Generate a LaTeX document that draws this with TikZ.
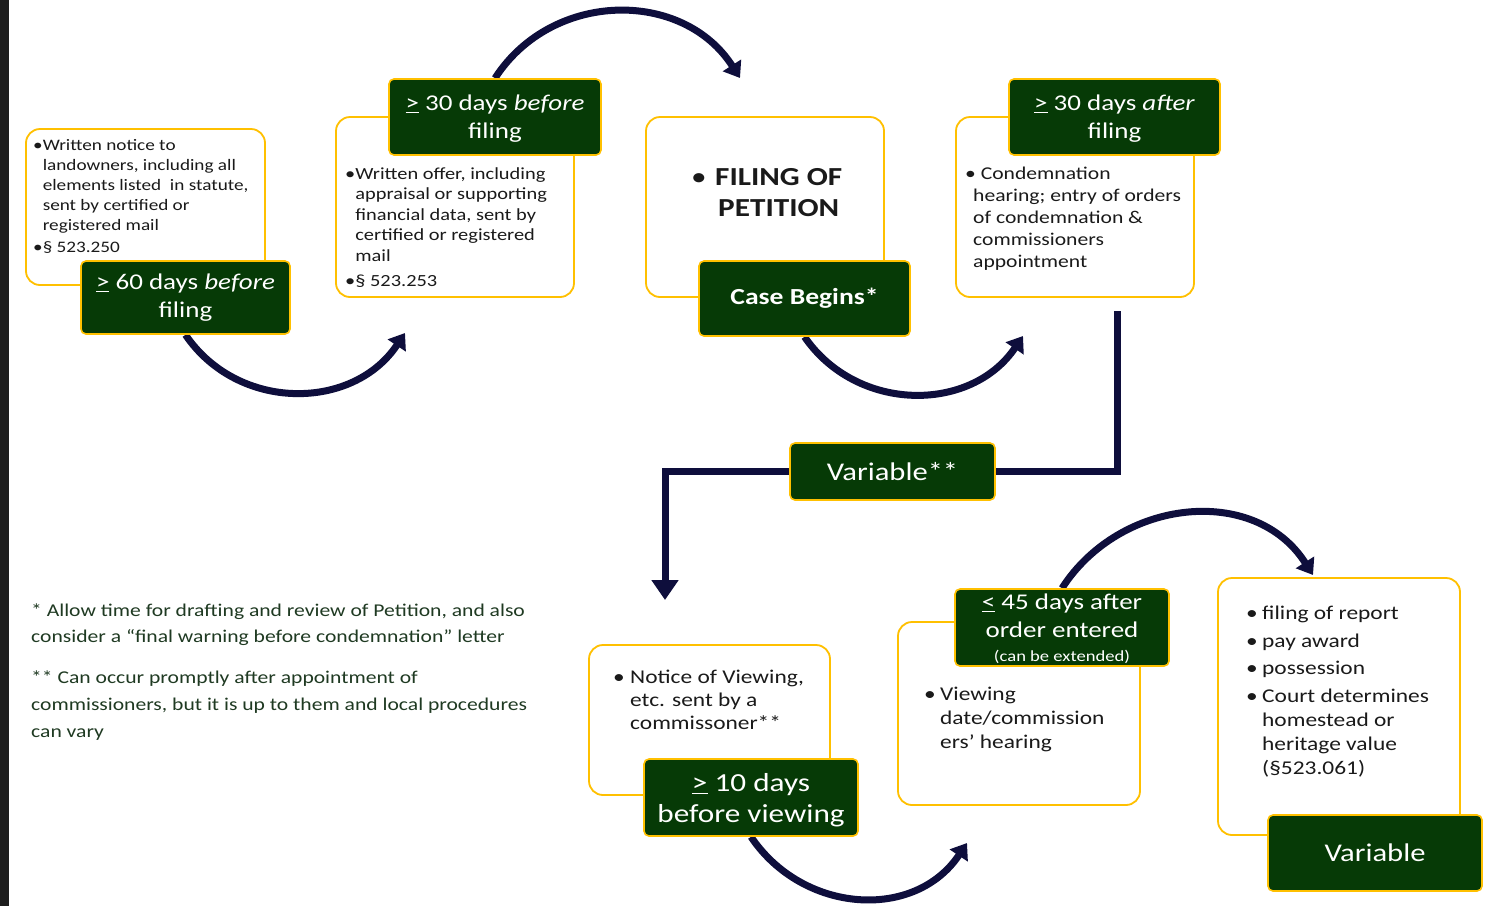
\documentclass[tikz,border=0pt]{standalone}
\usepackage{fontspec}
\setmainfont{Carlito}[FakeStretch=1.2]
\usetikzlibrary{arrows.meta}
\definecolor{lgreen}{HTML}{063A06}
\definecolor{gold}{HTML}{FFC000}
\definecolor{navy}{HTML}{0E0E3C}
\definecolor{ink}{HTML}{1A1A1A}
\definecolor{notec}{HTML}{1F3A22}
\definecolor{stripc}{HTML}{1E1E1E}
\newcommand{\fsz}[2]{\fontsize{#1pt}{#2pt}\selectfont}
\newcommand{\bul}[1]{\makebox[#1][l]{•}}
\pgfdeclarelayer{bg}
\pgfsetlayers{bg,main}
\begin{document}
\begin{tikzpicture}[x=1pt,y=-1pt,
  wbox/.style={draw=gold,line width=1.8pt,fill=white,rounded corners=14pt,inner sep=0pt},
  lab/.style={draw=gold,line width=1.6pt,fill=lgreen,rounded corners=5pt,inner sep=0pt,text=white,align=center},
  txt/.style={anchor=base west,inner sep=0pt,text=ink},
  arcarrow/.style={draw=navy,line width=7pt,-{Triangle[width=21pt,length=15pt]}},
  elbow/.style={draw=navy,line width=7pt}]
\useasboundingbox (0,0) rectangle (1486,906);

% white boxes
\node[wbox,minimum width=239pt,minimum height=156pt] (b1) at (145.5,207) {};
\node[wbox,minimum width=238pt,minimum height=180pt] (b2) at (455,207) {};
\node[wbox,minimum width=238pt,minimum height=180pt] (b3) at (765,207) {};
\node[wbox,minimum width=238pt,minimum height=180pt] (b4) at (1075,207) {};
\node[wbox,minimum width=241pt,minimum height=150pt] (b5) at (709.5,720) {};
\node[wbox,minimum width=242pt,minimum height=183pt] (b6) at (1019,713.5) {};
\node[wbox,minimum width=242pt,minimum height=257pt] (b7) at (1339,706.5) {};

% box texts
\node[txt] (t1) at (33,150) {\fsz{16}{20}\begin{tabular}[t]{@{}l@{}l@{}}•&Written notice to\\&landowners, including all\\&elements listed\ \ in statute,\\&sent by certified or\\&registered mail\\[2pt]•&§ 523.250\end{tabular}};
\node[txt] (t2) at (345,179) {\fsz{17}{20.5}\begin{tabular}[t]{@{}l@{}l@{}}•&Written offer, including\\&appraisal or supporting\\&financial data, sent by\\&certified or registered\\&mail\\[4.5pt]•&§ 523.253\end{tabular}};
\node[txt] (t3) at (691,185) {\fsz{26}{31}\bfseries\begin{tabular}[t]{@{}l@{}c@{}}{\mdseries\bul{24pt}}&FILING OF\\&PETITION\end{tabular}};
\node[txt] (t4) at (965,179) {\fsz{18}{22}\begin{tabular}[t]{@{}l@{}}• Condemnation\\\hspace{8pt}hearing; entry of orders\\\hspace{8pt}of condemnation \&\\\hspace{8pt}commissioners\\\hspace{8pt}appointment\end{tabular}};
\node[txt] (t5) at (613,683.5) {\fsz{19.5}{23}\begin{tabular}[t]{@{}l@{}l@{}}\bul{17pt}&Notice of Viewing,\\&etc. sent by a\\&commissoner**\end{tabular}};
\node[txt] (t6) at (924,700.5) {\fsz{19.5}{24}\begin{tabular}[t]{@{}l@{}l@{}}\bul{16pt}&Viewing\\&date/commission\\&ers' hearing\end{tabular}};
\node[txt] (t7) at (1246,619.5) {\fsz{19.5}{24}\begin{tabular}[t]{@{}l@{}l@{}}\bul{16pt}&filing of report\\[4pt]\bul{16pt}&pay award\\[3pt]\bul{16pt}&possession\\[4pt]\bul{16pt}&Court determines\\&homestead or\\&heritage value\\&(§523.061)\end{tabular}};

% notes
\node[txt,text=notec] (nt) at (31,616) {\fsz{18}{26.7}\begin{tabular}[t]{@{}l@{}}* Allow time for drafting and review of Petition, and also\\consider a “final warning before condemnation” letter\\[14.5pt]** Can occur promptly after appointment of\\commissioners, but it is up to them and local procedures\\can vary\end{tabular}};

% green labels
\node[lab,minimum width=209pt,minimum height=73pt,font=\fsz{22.5}{28}] (l1) at (185.5,297.5) {\underline{>} 60 days \textit{before}\\filing};
\node[lab,minimum width=212pt,minimum height=76pt,font=\fsz{22.5}{28}] (l2) at (495,117) {\rule{0pt}{19pt}\underline{>} 30 days \textit{before}\\filing};
\node[lab,minimum width=211pt,minimum height=75pt,font=\fsz{23}{28}\bfseries] (l3) at (804.5,298.5) {Case Begins*};
\node[lab,minimum width=211pt,minimum height=76pt,font=\fsz{22.5}{28}] (l4) at (1114.5,117) {\rule{0pt}{19pt}\underline{>} 30 days \textit{after}\\filing};
\node[lab,minimum width=205pt,minimum height=57pt,font=\fsz{25.5}{30}] (var) at (892.5,471.5) {Variable**};
\node[lab,minimum width=214pt,minimum height=77pt,font=\fsz{26}{31}] (l5) at (751,797.5) {\rule{0pt}{24pt}\underline{>} 10 days\\before viewing};
\node[lab,minimum width=214pt,minimum height=77pt] (l6) at (1062,627.5) {};
\node[inner sep=0pt,text=white] (l6t) at ([yshift=-2.5pt]l6.center) {{\fsz{22.5}{28}\begin{tabular}{@{}c@{}}\underline{<} 45 days after\\order entered\\[-4pt]\fsz{15.5}{20}(can be extended)\end{tabular}}};
\node[lab,minimum width=214pt,minimum height=76pt,font=\fsz{25.5}{30}] (l7) at (1375,853) {Variable};

% free ends
\coordinate (e1) at (405,333);
\coordinate (e2) at (740,78);
\coordinate (e3) at (1023,336);
\coordinate (e5) at (967,843);
\coordinate (e6) at (1313,575);
\coordinate (v0) at (1117,311);
\coordinate (v1) at (665,600);

\begin{pgfonlayer}{bg}
\fill[white] (0,0) rectangle (1486,906);
\fill[stripc] (0,0) rectangle (9,906);
\draw[arcarrow] (l1.south) .. controls (238,412) and (353,411) .. (e1);
\draw[arcarrow] (l2.north) .. controls (552,-10) and (683,-11) .. (e2);
\draw[arcarrow] (l3.south) .. controls (857,413) and (971,413) .. (e3);
\draw[arcarrow] (l5.south) .. controls (803,914) and (915,921) .. (e5);
\draw[arcarrow] (l6.north) .. controls (1120,498) and (1255,484) .. (e6);
\draw[elbow] (v0) |- (var.east);
\draw[elbow,-{Triangle[width=26pt,length=20pt]}] (var.west) -| (v1);
\end{pgfonlayer}
\end{tikzpicture}
\end{document}
